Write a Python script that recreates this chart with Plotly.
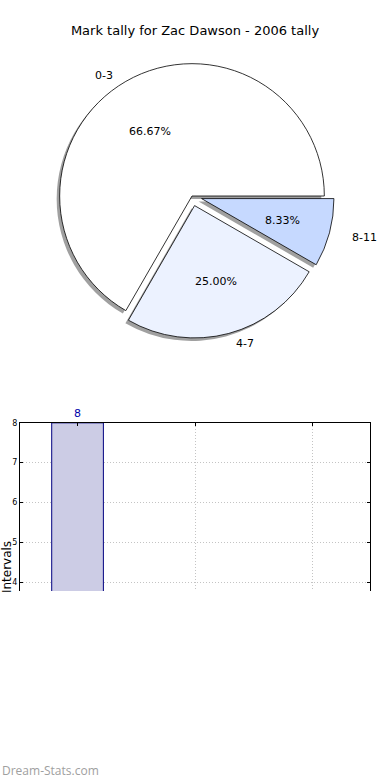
import math
import plotly.graph_objects as go

# ---- data ----
title_text = "Mark tally for Zac Dawson - 2006 tally"
intervals = ["0-3", "4-7", "8-11"]
tally = [8, 3, 1]
pie_colors = ["#FFFFFF", "#ECF2FF", "#C6D9FF"]
pull = [0, 0.075, 0.075]
watermark = "Dream-Stats.com"

W, H = 390, 780

def px_dom_x(a, b):
    return [a / W, b / W]

def px_dom_y(top, bottom):
    return [1 - bottom / H, 1 - top / H]

cx, cy, half = 192, 193, 143
r_pie = half / (1 + max(pull))
sh = 3  # shadow offset in px
rot = -150

fig = go.Figure()

# shadow pie
fig.add_trace(go.Pie(
    labels=intervals, values=tally, sort=False, direction="counterclockwise",
    rotation=rot, pull=pull,
    marker=dict(colors=["rgba(120,120,120,0.7)"] * 3, line=dict(width=0)),
    textinfo="none", hoverinfo="skip", showlegend=False,
    domain=dict(x=px_dom_x(cx - half - sh, cx + half - sh),
                y=px_dom_y(cy - half + sh, cy + half + sh)),
))

# main pie
fig.add_trace(go.Pie(
    labels=intervals, values=tally, sort=False, direction="counterclockwise",
    rotation=rot, pull=pull,
    marker=dict(colors=pie_colors, line=dict(color="#000000", width=0.8)),
    textinfo="none", hoverinfo="skip", showlegend=False,
    domain=dict(x=px_dom_x(cx - half, cx + half), y=px_dom_y(cy - half, cy + half)),
))

# bar chart
fig.add_trace(go.Bar(
    x=intervals, y=tally, width=0.44,
    marker=dict(color="#CCCCE5", line=dict(color="#000080", width=1)),
    text=[str(v) for v in tally], textposition="outside",
    textfont=dict(family="DejaVu Sans", size=11, color="#0000AA"),
    cliponaxis=False, showlegend=False, hoverinfo="skip",
    xaxis="x", yaxis="y",
))

# pie labels (matplotlib-style: percent at 0.6 r, label at 1.1 r)
rx_lab, ry_lab = 140, 129
total = sum(tally)
annotations = []
start = 0.0
for lab, v, p in zip(intervals, tally, pull):
    frac = v / total
    mid = math.radians(360 * (start + frac / 2))
    start += frac
    ox = cx + p * r_pie * math.cos(mid)
    oy = (cy + 2) - p * r_pie * math.sin(mid)
    px_ = ox + 0.6 * rx_lab * math.cos(mid)
    py_ = oy - 0.6 * ry_lab * math.sin(mid)
    annotations.append(dict(text=f"{100 * frac:.2f}%", x=px_ / W, y=1 - py_ / H,
                            xref="paper", yref="paper", xanchor="center", yanchor="middle",
                            showarrow=False,
                            font=dict(family="DejaVu Sans", size=11, color="#000000")))
    lx = ox + 1.1 * rx_lab * math.cos(mid)
    ly = oy - 1.1 * ry_lab * math.sin(mid)
    annotations.append(dict(text=lab, x=lx / W, y=1 - ly / H,
                            xref="paper", yref="paper",
                            xanchor="left" if math.cos(mid) > 0 else "right",
                            yanchor="middle", showarrow=False,
                            font=dict(family="DejaVu Sans", size=11, color="#000000")))

annotations += [
    dict(text="Intervals", textangle=-90, x=7 / W, y=1 - 566 / H,
         xref="paper", yref="paper", xanchor="center", yanchor="middle",
         showarrow=False, font=dict(family="DejaVu Sans", size=12, color="#000000")),
    dict(text=watermark, x=0, y=1 - 770 / H, xref="paper", yref="paper",
         xanchor="left", yanchor="middle", showarrow=False,
         font=dict(family="Open Sans", size=12, color="#A0A0A0")),
]

grid = dict(showgrid=True, gridcolor="#C4C4C4", griddash="1px,2px", gridwidth=1)

fig.update_layout(
    width=W, height=H,
    margin=dict(l=0, r=0, t=0, b=0),
    paper_bgcolor="white", plot_bgcolor="white",
    title=dict(text=title_text, x=0.5, xanchor="center", y=1 - 30 / H, yanchor="middle",
               font=dict(family="DejaVu Sans", size=13, color="#000000")),
    xaxis=dict(domain=px_dom_x(20, 370), range=[-0.49, 2.49], side="top",
               showline=True, linecolor="#000000", linewidth=1,
               showticklabels=False, ticks="inside", ticklen=3, tickcolor="#000000",
               zeroline=False, fixedrange=True, **grid),
    yaxis=dict(domain=px_dom_y(421, 590), range=[3.78, 8], dtick=1,
               showline=True, linecolor="#000000", linewidth=1, mirror="ticks",
               ticks="inside", ticklen=3, tickcolor="#000000",
               tickfont=dict(family="DejaVu Sans", size=8, color="#000000"),
               zeroline=False, fixedrange=True, **grid),
    annotations=annotations,
)

fig.write_html("out.html", config={"displayModeBar": False},
               post_script="document.body.style.margin='0';document.body.style.overflow='hidden';")
